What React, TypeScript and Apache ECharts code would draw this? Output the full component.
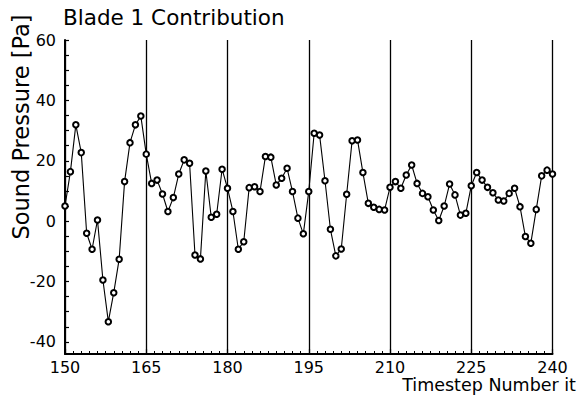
import React, { useEffect, useRef } from "react";
import * as echarts from "echarts";

// Timesteps of the record (one sample per step)
const FIRST_STEP = 150;
const LAST_STEP = 240;

// Blade 1 sound pressure [Pa], one value per timestep 150..240
const pressure: number[] = [
  5.0, 16.4, 31.9, 22.7, -4.0, -9.3, 0.4, -19.5, -33.3, -23.7,
  -12.6, 13.1, 26.0, 31.9, 34.8, 22.2, 12.5, 13.6, 9.0, 3.2,
  7.8, 15.6, 20.3, 19.2, -11.2, -12.5, 16.6, 1.3, 2.3, 17.2,
  10.9, 3.2, -9.3, -6.8, 11.1, 11.4, 9.8, 21.4, 21.2, 12.0,
  14.2, 17.5, 9.8, 1.0, -4.2, 9.8, 29.1, 28.5, 13.4, -2.7,
  -11.5, -9.2, 8.9, 26.6, 26.9, 16.1, 5.9, 4.6, 3.9, 3.7,
  11.2, 13.1, 10.9, 15.3, 18.6, 12.5, 9.2, 8.1, 3.7, 0.2,
  5.0, 12.3, 8.7, 2.0, 2.6, 11.7, 16.1, 13.6, 11.2, 9.4,
  7.0, 6.7, 9.2, 10.9, 4.8, -5.1, -7.3, 3.9, 15.0, 16.9,
  15.6,
];

// Axis labels and ticks
const yLabels = [-40, -20, 0, 20, 40, 60];
const yTicks = [-40, -35, -30, -25, -20, -15, -10, -5, 0, 5, 10, 15, 20, 25, 30, 35, 40, 45, 50, 55, 60];
const xInterval = 15;

const FONT = "DejaVu Sans";

export default function App() {
  const ref = useRef<HTMLDivElement>(null);

  useEffect(() => {
    if (!ref.current) return;
    const chart = echarts.init(ref.current, undefined, { renderer: "svg" });
    const points = pressure.map((v, i) => [FIRST_STEP + i, v]);

    chart.setOption({
      animation: false,
      backgroundColor: "#ffffff",
      title: {
        text: "Blade 1 Contribution",
        left: 63,
        top: 6,
        padding: 0,
        textStyle: { fontFamily: FONT, fontSize: 21.5, fontWeight: "normal", color: "#000" },
      },
      graphic: [
        {
          type: "text",
          x: 21,
          y: 127,
          rotation: Math.PI / 2,
          style: {
            text: "Sound Pressure [Pa]",
            fontFamily: FONT,
            fontSize: 22.5,
            fill: "#000",
            textAlign: "center",
            textVerticalAlign: "middle",
          },
        },
        {
          type: "text",
          x: 576,
          y: 385,
          style: {
            text: "Timestep Number it",
            fontFamily: FONT,
            fontSize: 17.5,
            fill: "#000",
            textAlign: "right",
            textVerticalAlign: "middle",
          },
        },
      ],
      grid: { left: 65, right: 24.5, top: 40, bottom: 49, containLabel: false },
      xAxis: {
        type: "value",
        min: FIRST_STEP,
        max: LAST_STEP,
        interval: xInterval,
        axisLine: { show: true, onZero: false, lineStyle: { color: "#000", width: 2 } },
        axisTick: { show: true, inside: true, length: 5, lineStyle: { color: "#000", width: 1.2 } },
        minorTick: { show: true, splitNumber: 10, length: 3, lineStyle: { color: "#000", width: 1 } },
        splitLine: { show: true, lineStyle: { color: "#000", width: 1.3 } },
        axisLabel: { fontFamily: FONT, fontSize: 16, color: "#000", margin: 5 },
      },
      yAxis: {
        type: "value",
        min: -44,
        max: 60,
        axisLine: { show: true, onZero: false, lineStyle: { color: "#000", width: 2 } },
        axisTick: {
          show: true,
          inside: true,
          length: 4,
          customValues: yTicks,
          lineStyle: { color: "#000", width: 1.2 },
        },
        splitLine: { show: false },
        axisLabel: {
          fontFamily: FONT,
          fontSize: 16,
          color: "#000",
          margin: 9,
          customValues: yLabels,
        },
      },
      series: [
        {
          type: "line",
          data: points,
          clip: false,
          symbol: "emptyCircle",
          symbolSize: 5.5,
          lineStyle: { color: "#000", width: 1.1 },
          itemStyle: { color: "#000", borderColor: "#000", borderWidth: 1 },
          z: 5,
        },
      ],
    });

    return () => chart.dispose();
  }, []);

  return (
    <div
      ref={ref}
      style={{ position: "fixed", left: 0, top: 0, width: 577, height: 403, background: "#fff" }}
    />
  );
}
